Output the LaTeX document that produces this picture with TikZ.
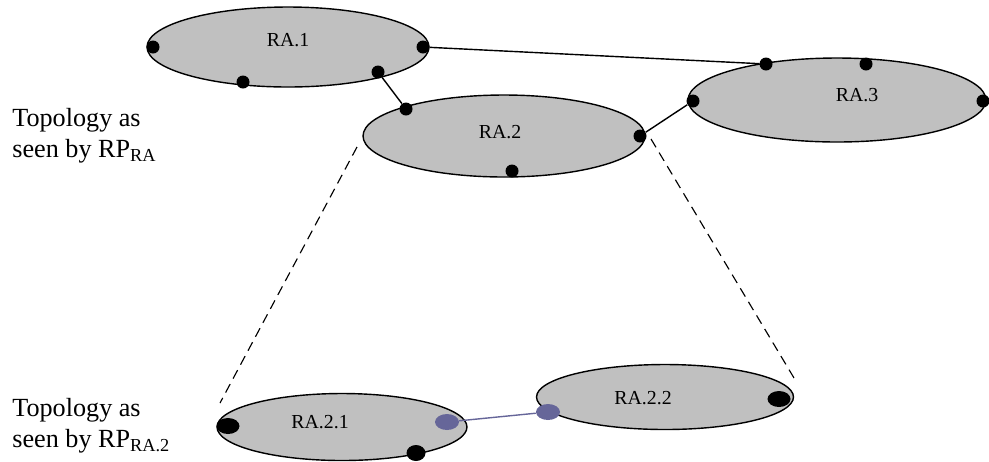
\documentclass[tikz,border=0pt]{standalone}
\usepackage{fontspec}
\setmainfont{Liberation Serif}
\usepackage{tikz}
\usetikzlibrary{shapes.geometric}
\definecolor{areagray}{RGB}{192,192,192}
\definecolor{linkblue}{RGB}{102,102,153}
\tikzset{
	area/.style={shape=ellipse,draw=black,fill=areagray,line width=0.8pt,inner sep=0pt},
	dot/.style={shape=circle,fill=black,inner sep=0pt,minimum size=0.26cm},
	bigdot/.style={shape=ellipse,fill=black,inner sep=0pt,minimum width=0.46cm,minimum height=0.32cm},
	bluedot/.style={shape=ellipse,fill=linkblue,inner sep=0pt,minimum width=0.48cm,minimum height=0.32cm},
	zoomline/.style={dash pattern=on 5.5pt off 3.5pt,line width=0.65pt},
	arealabel/.style={font=\fontsize{11.3}{13}\selectfont},
	toplabel/.style={font=\fontsize{14.9}{17.5}\selectfont,align=left,anchor=north west,inner sep=0pt}
}

\begin{document}
\begin{tikzpicture}[x=0.02cm,y=-0.02cm]
			\useasboundingbox (0,0) rectangle (989,461);
			% upper level
			\node[area,minimum width=5.64cm,minimum height=1.6cm,label={[arealabel,yshift=0.14cm]center:RA.1}] (RA1) at (288,47) {};
			\node[area,minimum width=5.64cm,minimum height=1.64cm,label={[arealabel,xshift=-0.08cm,yshift=0.08cm]center:RA.2}] (RA2) at (504,136) {};
			\node[area,minimum width=5.96cm,minimum height=1.68cm,label={[arealabel,xshift=0.4cm,yshift=0.1cm]center:RA.3}] (RA3) at (837,100) {};
			
			\node[dot] (1a) at (153,47) {};
			\node[dot] (1b) at (423,47) {};
			\node[dot] (1c) at (243,82) {};
			\node[dot] (1d) at (378,72) {};
			\node[dot] (2a) at (406,109) {};
			\node[dot] (2b) at (640,136) {};
			\node[dot] (2c) at (512,171) {};
			\node[dot] (3a) at (766,64) {};
			\node[dot] (3b) at (866,64) {};
			\node[dot] (3c) at (693,101) {};
			\node[dot] (3d) at (983,101) {};
			
			\draw[line width=0.8pt] (1b) -- (3a);
			\draw[line width=0.8pt] (1d) -- (2a);
			\draw[line width=0.8pt] (2b) -- (3c);
			
			% lower level
			\node[area,minimum width=5.0cm,minimum height=1.34cm,label={[arealabel,xshift=-0.44cm,yshift=0.1cm]center:RA.2.1}] (RA21) at (342,427) {};
			\node[area,minimum width=5.14cm,minimum height=1.3cm,label={[arealabel,xshift=-0.44cm,yshift=-0.02cm]center:RA.2.2}] (RA22) at (665,397) {};
			
			\node[bigdot] (21a) at (228,426) {};
			\node[bigdot,minimum width=0.38cm] (21b) at (416,453) {};
			\node[bluedot] (21c) at (447,422) {};
			\node[bluedot] (22a) at (548,412) {};
			\node[bigdot] (22b) at (779,399) {};
			
			\draw[linkblue,line width=0.8pt] (21c) -- (22a);
			
			% zoom lines
			\coordinate (zl1) at (357,147);
			\coordinate (zl2) at (220,403);
			\coordinate (zr1) at (651,139);
			\coordinate (zr2) at (797,383);
			\draw[zoomline] (zl1) -- (zl2);
			\draw[zoomline] (zr1) -- (zr2);
			
			\node[toplabel] (t1) at (12,108) {Topology as\\seen by RP\textsubscript{RA}};
			\node[toplabel] (t2) at (12,398) {Topology as\\seen by RP\textsubscript{RA.2}};
		\end{tikzpicture}
\end{document}
